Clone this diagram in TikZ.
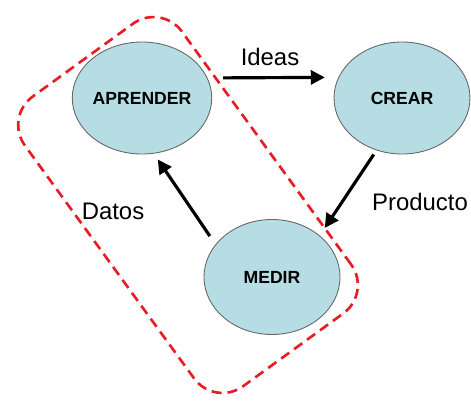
\documentclass[tikz,border=0pt]{standalone}
\usepackage{fontspec}
\setmainfont{Liberation Sans}
\usetikzlibrary{arrows.meta,shapes.geometric}
\definecolor{celeste}{RGB}{183,221,228}
\definecolor{rojo}{RGB}{232,28,36}
\begin{document}
\begin{tikzpicture}[
	fase/.style={ellipse, draw=black!60, line width=0.5pt, fill=celeste, minimum width=2.72cm, minimum height=2.24cm, inner sep=0pt, font=\bfseries\fontsize{10}{12}\selectfont},
	flecha/.style={line width=1.8pt, -{Triangle[length=8pt,width=8pt]}},
	etiqueta/.style={font=\fontsize{13.6}{16}\selectfont}
	]
			\useasboundingbox (0,0) rectangle (9.42,8.02);
			\node	(grupo) at (3.76,3.92) [draw=rojo, dash pattern=on 0.2cm off 0.12cm, line width=1.5pt, rounded corners=0.7cm, rotate=-54, minimum width=7.16cm, minimum height=3.88cm] {};
			\node	(aprender) at (2.84,6.06) [fase] {APRENDER};
			\node	(crear) at (8.04,6.06) [fase] {CREAR};
			\node	(medir) at (5.44,2.48) [fase, minimum height=2.3cm] {MEDIR};
			\node	(ideas) at (5.40,6.88) [etiqueta] {Ideas};
			\node	(producto) at (8.40,3.98) [etiqueta] {Producto};
			\node	(datos) at (2.26,3.80) [etiqueta] {Datos};
			\draw 
			(aprender.17.5) edge[flecha, shorten <=0.31cm, shorten >=0.27cm] (crear.162.5)
			(crear.244) edge[flecha, shorten <=0.1cm, shorten >=0.18cm] (medir.41.4)
			(medir.150.6) edge[flecha, shorten <=0.2cm, shorten >=0.14cm] (aprender.282.3)
			;
		\end{tikzpicture}
\end{document}
